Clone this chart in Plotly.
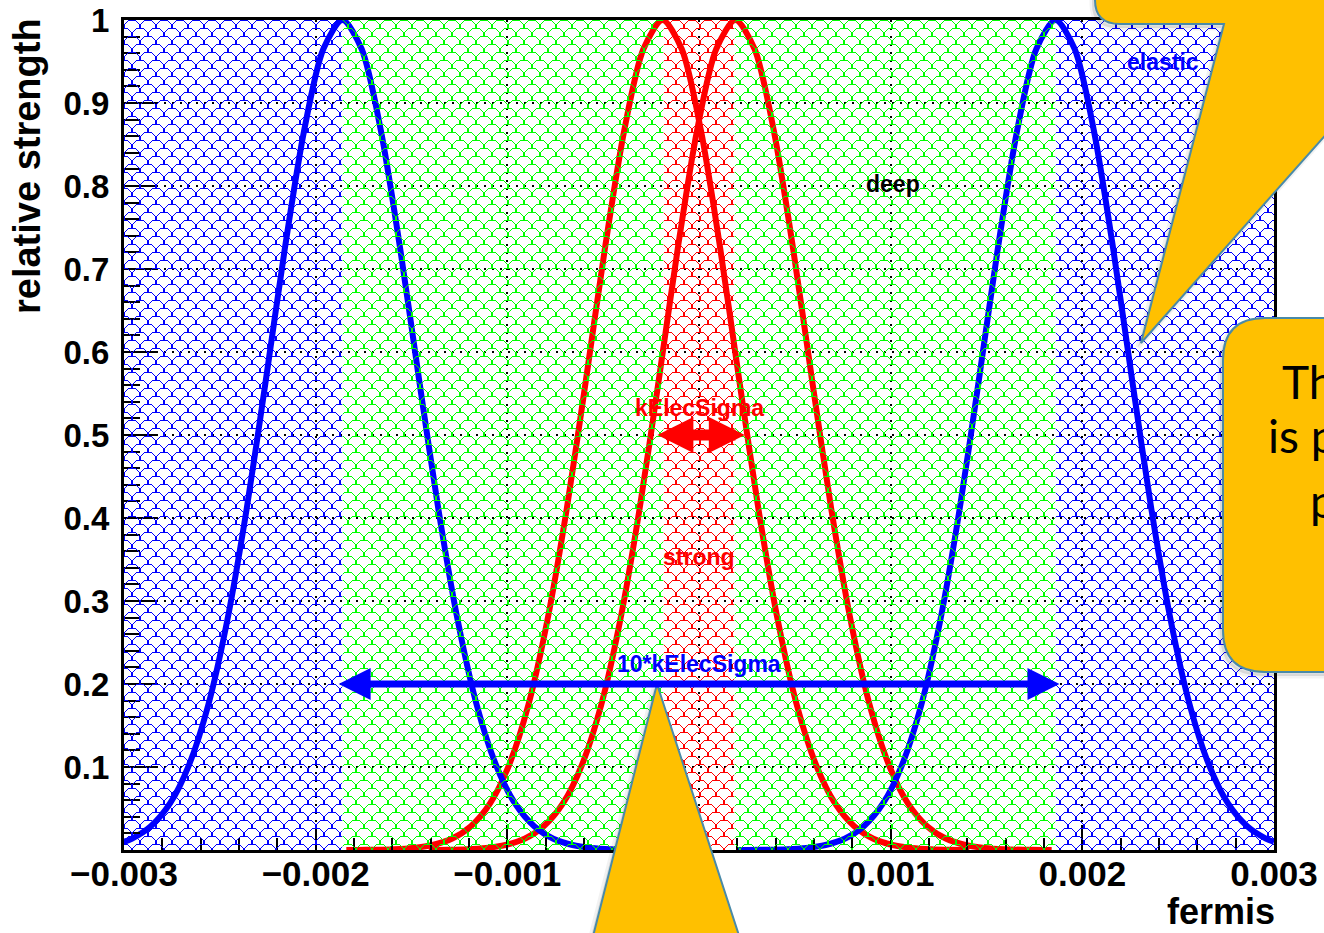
import base64
import plotly.graph_objects as go

# ---------------- data ----------------
blue_left_x = [-0.00300, -0.00296, -0.00286, -0.00276, -0.00266, -0.00256, -0.00246, -0.00236,
               -0.00226, -0.00216, -0.00206, -0.00196, -0.00186, -0.00176, -0.00166, -0.00156,
               -0.00146, -0.00136, -0.00126, -0.00116, -0.00106, -0.00096, -0.00086, -0.00076,
               -0.00066, -0.00056, -0.00046, -0.00036, -0.00026, -0.00020]
blue_left_y = [0.0099, 0.0135, 0.0286, 0.0561, 0.103, 0.175, 0.278, 0.411, 0.566, 0.726, 0.867,
               0.965, 1.000, 0.965, 0.867, 0.726, 0.566, 0.411, 0.278, 0.175, 0.103, 0.0561,
               0.0286, 0.0135, 0.0060, 0.0025, 0.0009, 0.0003, 0.0001, 0.0001]

blue_right_x = [0.00020, 0.00026, 0.00036, 0.00046, 0.00056, 0.00066, 0.00076, 0.00086, 0.00096,
                0.00106, 0.00116, 0.00126, 0.00136, 0.00146, 0.00156, 0.00166, 0.00176, 0.00186,
                0.00196, 0.00206, 0.00216, 0.00226, 0.00236, 0.00246, 0.00256, 0.00266, 0.00276,
                0.00286, 0.00296, 0.00300]
blue_right_y = [0.0001, 0.0001, 0.0003, 0.0009, 0.0025, 0.0060, 0.0135, 0.0286, 0.0561, 0.103,
                0.175, 0.278, 0.411, 0.566, 0.726, 0.867, 0.965, 1.000, 0.965, 0.867, 0.726,
                0.566, 0.411, 0.278, 0.175, 0.103, 0.0561, 0.0286, 0.0135, 0.0099]

red_left_x = [-0.00184, -0.00179, -0.00169, -0.00159, -0.00149, -0.00139, -0.00129, -0.00119,
              -0.00109, -0.00099, -0.00089, -0.00079, -0.00069, -0.00059, -0.00049, -0.00039,
              -0.00029, -0.00019, -0.00009, 0.00001, 0.00011, 0.00021, 0.00031, 0.00041,
              0.00051, 0.00061, 0.00071, 0.00081, 0.00091, 0.00101, 0.00111, 0.00121, 0.00131,
              0.00141]
red_left_y = [0.0001, 0.0001, 0.0003, 0.0009, 0.0025, 0.0060, 0.0135, 0.0286, 0.0561, 0.103,
              0.175, 0.278, 0.411, 0.566, 0.726, 0.867, 0.965, 1.000, 0.965, 0.867, 0.726,
              0.566, 0.411, 0.278, 0.175, 0.103, 0.0561, 0.0286, 0.0135, 0.0060, 0.0025,
              0.0009, 0.0003, 0.0001]

red_right_x = [-0.00141, -0.00131, -0.00121, -0.00111, -0.00101, -0.00091, -0.00081, -0.00071,
               -0.00061, -0.00051, -0.00041, -0.00031, -0.00021, -0.00011, -0.00001, 0.00009,
               0.00019, 0.00029, 0.00039, 0.00049, 0.00059, 0.00069, 0.00079, 0.00089, 0.00099,
               0.00109, 0.00119, 0.00129, 0.00139, 0.00149, 0.00159, 0.00169, 0.00179, 0.00184]
red_right_y = [0.0001, 0.0003, 0.0009, 0.0025, 0.0060, 0.0135, 0.0286, 0.0561, 0.103, 0.175,
               0.278, 0.411, 0.566, 0.726, 0.867, 0.965, 1.000, 0.965, 0.867, 0.726, 0.566,
               0.411, 0.278, 0.175, 0.103, 0.0561, 0.0286, 0.0135, 0.0060, 0.0025, 0.0009,
               0.0003, 0.0001, 0.0001]

# hatched regions (elastic / deep / strong / deep / elastic)
region_start = [-0.003, -0.00186, -0.000185, 0.000185, 0.00186]
region_end = [-0.00186, -0.000185, 0.000185, 0.00186, 0.003]
region_color = ["#0000ff", "#00ff00", "#ff0000", "#00ff00", "#0000ff"]

x_tick_vals = [-0.003, -0.002, -0.001, 0.0, 0.001, 0.002, 0.003]
x_tick_text = ["\u22120.003", "\u22120.002", "\u22120.001", "0", "0.001", "0.002", "0.003"]
y_tick_vals = [0.1, 0.2, 0.3, 0.4, 0.5, 0.6, 0.7, 0.8, 0.9, 1.0]
y_tick_text = ["0.1", "0.2", "0.3", "0.4", "0.5", "0.6", "0.7", "0.8", "0.9", "1"]

label_text = ["elastic", "deep", "kElecSigma", "strong", "10*kElecSigma"]
label_x = [0.00242, 0.00101, 0.0, 0.0, 0.0]
label_y = [0.949, 0.802, 0.532, 0.353, 0.224]
label_color = ["#0000ff", "#000000", "#ff0000", "#ff0000", "#0000ff"]

arrow_x0 = [-0.001888, -0.000225]
arrow_x1 = [0.001881, 0.000239]
arrow_y = [0.2, 0.5]
arrow_color = ["#0000ff", "#ff0000"]
arrow_width = [7, 11]
arrow_head = [6.4, 7.2]

callout_lines = ["The full range", "is partitioned", "per region"]

# ---------------- layout geometry ----------------
FIG_W, FIG_H = 1324, 933
ML, MR, MT, MB = 124, 50, 20, 83
PW, PH = FIG_W - ML - MR, FIG_H - MT - MB
XMIN, XMAX = -0.003, 0.003
FONT = "Liberation Sans, Arial, Helvetica, sans-serif"


def px_to_paper(px, py):
    return (px - ML) / PW, (FIG_H - MB - py) / PH


def path_from_px(segs):
    parts = []
    for cmd, pts in segs:
        coords = []
        for (px, py) in pts:
            x, y = px_to_paper(px, py)
            coords.append(f"{x:.5f},{y:.5f}")
        parts.append(cmd + " ".join(coords))
    return " ".join(parts) + " Z"


def hatch_svg(color, w, offset_px):
    ox = -(offset_px % 16)
    svg = (
        f'<svg xmlns="http://www.w3.org/2000/svg" width="{w:.2f}" height="{PH}" '
        f'viewBox="0 0 {w:.2f} {PH}" preserveAspectRatio="none">'
        f'<defs><pattern id="p" x="{ox:.2f}" y="0" width="16" height="16" '
        f'patternUnits="userSpaceOnUse">'
        f'<path d="M0,8 A8,8 0 0 1 16,8 M-8,16 A8,8 0 0 1 8,16 M8,16 A8,8 0 0 1 24,16" '
        f'fill="none" stroke="{color}" stroke-width="1" shape-rendering="crispEdges"/>'
        f'</pattern></defs><rect width="{w:.2f}" height="{PH}" fill="url(#p)"/></svg>'
    )
    return "data:image/svg+xml;base64," + base64.b64encode(svg.encode()).decode()


fig = go.Figure()

curves = [
    (red_left_x, red_left_y, "#ff0000"),
    (red_right_x, red_right_y, "#ff0000"),
    (blue_left_x, blue_left_y, "#0000ff"),
    (blue_right_x, blue_right_y, "#0000ff"),
]
for xs, ys, col in curves:
    fig.add_trace(go.Scatter(x=xs, y=ys, mode="lines",
                             line=dict(color=col, width=6, shape="spline", smoothing=0.8),
                             hoverinfo="skip", showlegend=False))

images = []
for s, e, c in zip(region_start, region_end, region_color):
    off = (s - XMIN) / (XMAX - XMIN) * PW
    wpx = (e - s) / (XMAX - XMIN) * PW
    images.append(dict(source=hatch_svg(c, wpx, off), xref="x", yref="y", x=s, y=1.0,
                       sizex=e - s, sizey=1.0, sizing="stretch", xanchor="left",
                       yanchor="top", layer="above"))

annotations = []
for t, x, y, c in zip(label_text, label_x, label_y, label_color):
    annotations.append(dict(x=x, y=y, xref="x", yref="y", text=t, showarrow=False,
                            font=dict(family=FONT, size=23, color=c, weight="bold"),
                            xanchor="center", yanchor="middle"))

for x0, x1, y, c, w, hs in zip(arrow_x0, arrow_x1, arrow_y, arrow_color, arrow_width, arrow_head):
    asz = hs / w
    annotations.append(dict(x=x1, y=y, xref="x", yref="y", ax=x0, ay=y, axref="x", ayref="y",
                            text="", showarrow=True, arrowhead=2, startarrowhead=2,
                            arrowside="end+start", arrowsize=asz, startarrowsize=asz,
                            arrowwidth=w, arrowcolor=c, standoff=0, startstandoff=0))
    # small black inner triangles of the ROOT arrow heads
    annotations.append(dict(x=x1, y=y, xref="x", yref="y", ax=-3, ay=0, text="",
                            showarrow=True, arrowhead=2, arrowsize=2, arrowwidth=1,
                            arrowcolor="black", xshift=-13))
    annotations.append(dict(x=x0, y=y, xref="x", yref="y", ax=3, ay=0, text="",
                            showarrow=True, arrowhead=2, arrowsize=2, arrowwidth=1,
                            arrowcolor="black", xshift=13))

# axis titles (ROOT style: aligned to the axis end)
annotations.append(dict(text="relative strength", textangle=-90, xref="paper", yref="paper",
                        x=(27 - ML) / PW, y=px_to_paper(0, 16)[1], xanchor="center",
                        yanchor="top", showarrow=False,
                        font=dict(family=FONT, size=38, color="black", weight="bold")))
annotations.append(dict(text="fermis", xref="paper", yref="paper",
                        x=1.0, y=px_to_paper(0, 933)[1], xanchor="right", yanchor="bottom",
                        xshift=2, borderpad=0, showarrow=False,
                        font=dict(family=FONT, size=36, color="black", weight="bold")))

# text inside the (cropped) right call-out
callout_px = [(1280, 381), (1266, 436), (1308, 500)]
for line, (px, py) in zip(callout_lines, callout_px):
    x, y = px_to_paper(px, py)
    annotations.append(dict(text=line, xref="paper", yref="paper", x=x, y=y,
                            xanchor="left", yanchor="middle", showarrow=False,
                            font=dict(family="Lato, Open Sans, sans-serif", size=46,
                                      color="black")))

# call-out balloons (overlay)
GOLD = "#ffc000"
EDGE = "#4a8aa8"
top_callout = [("M", [(1095, -30)]), ("L", [(1095, 0)]), ("Q", [(1095, 24), (1120, 24)]),
               ("L", [(1224, 24)]), ("L", [(1141, 343)]), ("L", [(1400, 51)]),
               ("L", [(1400, -30)])]
right_callout = [("M", [(1400, 318)]), ("L", [(1265, 318)]), ("Q", [(1223, 318), (1223, 360)]),
                 ("L", [(1223, 630)]), ("Q", [(1223, 672), (1265, 672)]), ("L", [(1400, 672)])]
bottom_callout = [("M", [(657, 684)]), ("L", [(747, 960)]), ("L", [(587, 960)])]


def shifted(segs, dx, dy):
    return [(c, [(x + dx, y + dy) for (x, y) in pts]) for c, pts in segs]


shapes = []
for segs in (top_callout, right_callout, bottom_callout):
    shapes.append(dict(type="path", xref="paper", yref="paper", layer="above",
                       path=path_from_px(shifted(segs, -3, 4)),
                       fillcolor="rgba(0,0,0,0.10)", line=dict(color="rgba(0,0,0,0.05)", width=5)))
for segs in (top_callout, right_callout, bottom_callout):
    shapes.append(dict(type="path", xref="paper", yref="paper", layer="above",
                       path=path_from_px(segs), fillcolor=GOLD,
                       line=dict(color=EDGE, width=2)))

x_minor = [round(XMIN + i * 0.0002, 5) for i in range(31)]
y_minor = [round(i * 0.02, 3) for i in range(51)]

fig.update_layout(
    width=FIG_W, height=FIG_H, autosize=False,
    margin=dict(l=ML, r=MR, t=MT, b=MB, pad=0, autoexpand=False),
    paper_bgcolor="white", plot_bgcolor="white",
    showlegend=False,
    images=images, annotations=annotations, shapes=shapes,
    xaxis=dict(range=[XMIN, XMAX], tickmode="array", tickvals=x_tick_vals, ticktext=x_tick_text,
               automargin=False,
               ticks="inside", ticklen=25, tickwidth=2, tickcolor="black",
               showline=True, linewidth=3, linecolor="black", mirror=True,
               showgrid=True, gridcolor="black", gridwidth=1.5, griddash="2px,6px",
               zeroline=False, ticklabelstandoff=-9,
               tickfont=dict(family=FONT, size=35, color="black", weight="bold"),
               minor=dict(tickmode="array", tickvals=x_minor, ticks="inside", ticklen=12,
                          tickwidth=2, tickcolor="black", showgrid=False)),
    yaxis=dict(range=[0, 1], tickmode="array", tickvals=y_tick_vals, ticktext=y_tick_text,
               automargin=False,
               ticks="inside", ticklen=33, tickwidth=2, tickcolor="black",
               showline=True, linewidth=3, linecolor="black", mirror=True,
               showgrid=True, gridcolor="black", gridwidth=1.5, griddash="2px,6px",
               zeroline=False, ticklabelstandoff=5,
               tickfont=dict(family=FONT, size=33, color="black", weight="bold"),
               minor=dict(tickmode="array", tickvals=y_minor, ticks="inside", ticklen=16,
                          tickwidth=2, tickcolor="black", showgrid=False)),
)

fig.write_html("out.html", config={"displayModeBar": False},
               post_script="document.body.style.margin='0';document.body.style.overflow='hidden';")
